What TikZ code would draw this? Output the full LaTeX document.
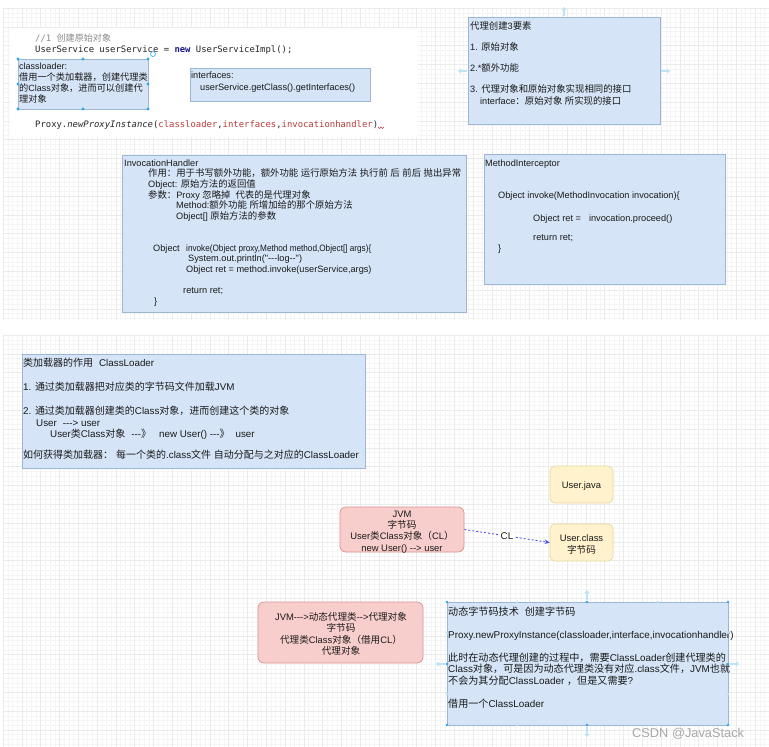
\documentclass[tikz,border=0pt]{standalone}
\usepackage{fontspec}
\usepackage{graphicx}
\newfontfamily\lsans{Liberation Sans}
\newfontfamily\mono{DejaVu Sans Mono}
\newfontfamily\cjkfont{Noto Sans CJK SC}[Scale=1.02]
\usetikzlibrary{arrows.meta}
% automatic switch to the CJK font for CJK characters
\XeTeXinterchartokenstate=1
\chardef\cjkcls=10
\makeatletter
\def\setcjkrange#1#2{\count@=#1\relax
  \loop\XeTeXcharclass\count@=\cjkcls\relax
  \ifnum\count@<#2\relax\advance\count@ by 1\relax\repeat}
\makeatother
\setcjkrange{"3000}{"303F}
\setcjkrange{"4E00}{"9FFF}
\setcjkrange{"FF00}{"FFEF}
\def\latinback{\lsans}
\XeTeXinterchartoks 0 \cjkcls = {\cjkfont}
\XeTeXinterchartoks 1 \cjkcls = {\cjkfont}
\XeTeXinterchartoks 2 \cjkcls = {\cjkfont}
\XeTeXinterchartoks 3 \cjkcls = {\cjkfont}
\XeTeXinterchartoks 4095 \cjkcls = {\cjkfont}
\XeTeXinterchartoks \cjkcls 0 = {\latinback}
\XeTeXinterchartoks \cjkcls 1 = {\latinback}
\XeTeXinterchartoks \cjkcls 2 = {\latinback}
\XeTeXinterchartoks \cjkcls 3 = {\latinback}
\XeTeXinterchartoks \cjkcls 4095 = {\latinback}
\definecolor{bfill}{HTML}{D5E4F7}
\definecolor{bline}{HTML}{9DB6D6}
\definecolor{pfill}{HTML}{F8CECC}
\definecolor{pline}{HTML}{D9908E}
\definecolor{yfill}{HTML}{FFF2CC}
\definecolor{yline}{HTML}{E9D79E}
\definecolor{txtc}{HTML}{1A1A1A}
\definecolor{gminor}{HTML}{F5F5F5}
\definecolor{gmajor}{HTML}{EBEBEB}
\definecolor{hdlc}{HTML}{2CA7E8}
\definecolor{hovc}{HTML}{BDE3F5}
\definecolor{codered}{HTML}{B83A3A}
\definecolor{codenavy}{HTML}{1A1A8C}
\definecolor{cmtc}{HTML}{8A8A8A}
\definecolor{arrc}{HTML}{4B4BEE}
\definecolor{wmark}{HTML}{A8A8A8}
\begin{document}
\begin{tikzpicture}[x=1pt,y=-1pt,
  box/.style={draw=bline, fill=bfill, line width=0.7pt, anchor=north west, inner sep=0pt, outer sep=0pt},
  pbox/.style={draw=pline, fill=pfill, line width=0.7pt, rounded corners=6pt, inner sep=0pt},
  ybox/.style={draw=yline, fill=yfill, line width=0.7pt, rounded corners=5pt, inner sep=0pt, minimum width=63pt, minimum height=37pt},
  ctx/.style={align=center, inner sep=0pt, text=txtc, font=\lsans\fontsize{9.4}{11.4}\selectfont},
  tx/.style={anchor=north west, inner sep=0pt, align=left, text=txtc, font=\lsans\fontsize{9.2}{10.6}\selectfont},
  code/.style={anchor=base west, inner sep=0pt, text=black!85, font=\mono\fontsize{8.9}{10}\selectfont},
  hdl/.style={circle, fill=hdlc, inner sep=0pt, minimum size=3.2pt},
  cpt/.style={circle, fill=hovc, inner sep=0pt, minimum size=2.6pt},
  hov/.style={draw=hovc, line width=1.3pt, -{Triangle[length=3pt,width=5pt]}},
  conn/.style={draw=arrc, line width=0.8pt, dash pattern=on 2pt off 2pt, -{Stealth[length=5pt,width=4.5pt]}}
]
\useasboundingbox (0,0) rectangle (769,747);
\fill[white] (0,0) rectangle (769,747);
% background grid of the editor
\draw[gminor, line width=0.35pt]
  \foreach \i in {0,...,163} {({3+4.7*\i},8) -- ({3+4.7*\i},320) ({3+4.7*\i},335) -- ({3+4.7*\i},747)}
  \foreach \i in {0,...,66} {(3,{8+4.7*\i}) -- (769,{8+4.7*\i})}
  \foreach \i in {0,...,87} {(3,{335+4.7*\i}) -- (769,{335+4.7*\i})};
\draw[gmajor, line width=0.4pt]
  \foreach \i in {0,...,40} {({3+18.8*\i},8) -- ({3+18.8*\i},320) ({3+18.8*\i},335) -- ({3+18.8*\i},747)}
  \foreach \i in {0,...,16} {(3,{8+18.8*\i}) -- (769,{8+18.8*\i})}
  \foreach \i in {0,...,21} {(3,{335+18.8*\i}) -- (769,{335+18.8*\i})};
% code screenshot
\fill[white] (10,28) rectangle (418,137);
\node[code] (cmt) at (35,41.5) {\color{cmtc}//1 创建原始对象};
\node[code] (usr) at (35,52.5) {UserService userService = \textcolor{codenavy}{\bfseries new} UserServiceImpl();};
\node[code] (prx) at (35,127.5) {Proxy.{\itshape newProxyInstance}(\textcolor{codered}{classloader},\textcolor{codered}{interfaces},\textcolor{codered}{invocationhandler})};
\draw[codered, line width=0.5pt] (378,127) -- (379.5,128.5) -- (381,127) -- (382.5,128.5) -- (384,127);
% classloader box (selected)
\node[box, minimum width=130pt, minimum height=50pt] (clb) at (18,59) {};
\node[tx, font=\lsans\fontsize{9.0}{10.9}\selectfont] (clt) at (19,63) {classloader:\\借用一个类加载器，创建代理类\\的Class对象，进而可以创建代\\理对象};
\foreach \hx/\hy [count=\k] in {18/59,83/59,148/59,18/84,148/84,18/109,83/109,148/109}
  \node[hdl] (hA\k) at (\hx,\hy) {};
\node[circle, draw=hdlc, line width=0.6pt, minimum size=5pt, inner sep=0pt] (rot) at (153,54) {};
% interfaces box
\node[box, minimum width=180pt, minimum height=33pt] (ifb) at (190,68) {};
\node[tx, font=\lsans\fontsize{9.2}{11.7}\selectfont] (ift) at (191,71.5) {interfaces:\\\hspace*{9pt}userService.getClass().getInterfaces()};
% three elements box
\node[box, minimum width=192pt, minimum height=107pt] (elb) at (468,17) {};
\node[tx] (elt) at (470,21) {代理创建3要素\\[11.1pt]1. 原始对象\\[10pt]2.*额外功能\\[10.4pt]3. 代理对象和原始对象实现相同的接口\\[1.1pt]\hspace*{10pt}interface：原始对象 所实现的接口};
\draw[hov] (564,16) -- (564,7);
\draw[hov] (467,71) -- (458,71);
\draw[hov] (661,71) -- (670,71);
% InvocationHandler box
\node[box, minimum width=344pt, minimum height=157pt] (ihb) at (122,155) {};
\node[tx] (iht) at (124,159.5) {InvocationHandler\\
\hspace*{24pt}作用：用于书写额外功能，额外功能 运行原始方法 执行前 后 前后 抛出异常\\
\hspace*{24pt}Object: 原始方法的返回值\\
\hspace*{24pt}参数：Proxy 忽略掉\hspace{5pt}代表的是代理对象\\
\hspace*{52pt}Method:额外功能 所增加给的那个原始方法\\
\hspace*{52pt}Object[] 原始方法的参数\\[21.4pt]
\hspace*{29pt}Object\hspace{6.4pt}\scalebox{0.89}[1]{invoke(Object proxy,Method method,Object[] args)\{}\\
\hspace*{64pt}System.out.println("---log--")\\
\hspace*{62pt}Object ret = method.invoke(userService,args)\\[10.4pt]
\hspace*{59pt}return ret;\\
\hspace*{30pt}\}};
% MethodInterceptor box
\node[box, minimum width=241pt, minimum height=130pt] (mib) at (484,154) {};
\node[tx] (mit) at (485,159.5) {MethodInterceptor\\[21.1pt]
\hspace*{13pt}Object invoke(MethodInvocation invocation)\{\\[12.7pt]
\hspace*{48pt}Object ret =\hspace{8pt}invocation.proceed()\\[8.7pt]
\hspace*{48pt}return ret;\\
\hspace*{13pt}\}};
% ClassLoader box
\node[box, minimum width=343pt, minimum height=114pt] (ckb) at (22,354) {};
\node[tx, font=\lsans\fontsize{9.8}{11.2}\selectfont] (ckt) at (23,357.5) {类加载器的作用\hspace{6pt}ClassLoader\\[13.2pt]
1. 通过类加载器把对应类的字节码文件加载JVM\\[13.1pt]
2. 通过类加载器创建类的Class对象，进而创建这个类的对象\\
\hspace*{13pt}User\hspace{6pt}---> user\\
\hspace*{27pt}User类Class对象\hspace{6pt}---》\hspace{8pt}new User() ---》\hspace{6pt}user\\[10.5pt]
如何获得类加载器：\hspace{3pt}每一个类的.class文件 自动分配与之对应的ClassLoader};
% class files
\node[ybox] (ujava) at (581.5,484.5) {};
\node[ctx] (ujavat) at (581.5,486) {User.java};
\node[ybox] (ucls) at (581.5,542.5) {};
\node[ctx] (uclst) at (581.5,544.5) {User.class\\字节码};
\node[pbox, minimum width=124pt, minimum height=45pt] (jvm) at (402,529.5) {};
\node[ctx] (jvmt) at (402,532) {JVM\\字节码\\User类Class对象（CL）\\new User() --> user};
\draw[conn] (jvm.east) -- node[fill=white, inner sep=1pt, text=txtc, font=\lsans\fontsize{9.8}{11}\selectfont] (cl) {CL} (ucls.west);
% dynamic proxy
\node[pbox, minimum width=165pt, minimum height=61pt] (jvm2) at (340.5,632.5) {};
\node[ctx] (jvm2t) at (341,634) {JVM--->动态代理类-->代理对象\\字节码\\代理类Class对象（借用CL）\\代理对象};
\node[box, minimum width=281pt, minimum height=123pt] (dyb) at (447,602) {};
\node[tx, font=\lsans\fontsize{9.9}{11.6}\selectfont] (dyt) at (448,606.5) {动态字节码技术\hspace{6pt}创建字节码\\[12pt]
Proxy.newProxyInstance(classloader,interface,invocationhandler)\\[10.8pt]
此时在动态代理创建的过程中，需要ClassLoader创建代理类的\\
Class对象，可是因为动态代理类没有对应.class文件，JVM也就\\
不会为其分配ClassLoader ，但是又需要?\\[11.7pt]
借用一个ClassLoader};
\foreach \hx/\hy [count=\k] in {447/602,587/602,728/602,447/664,728/664,447/725,587/725,728/725}
  \node[hdl, minimum size=2.8pt] (hB\k) at (\hx,\hy) {};
\foreach \hx/\hy [count=\k] in {517/602,658/602,517/725,658/725,447/633,447/694,728/633,728/694}
  \node[cpt] (cB\k) at (\hx,\hy) {};
\draw[hov] (587,600) -- (587,590);
\draw[hov] (587,727) -- (587,737);
\draw[hov] (445,664) -- (436,664);
\draw[hov] (730,664) -- (739,664);
% watermark
\node[anchor=base west, inner sep=0pt, text=wmark, font=\lsans\fontsize{12.8}{14}\selectfont] (wm) at (632,737) {CSDN @JavaStack};
\end{tikzpicture}
\end{document}
